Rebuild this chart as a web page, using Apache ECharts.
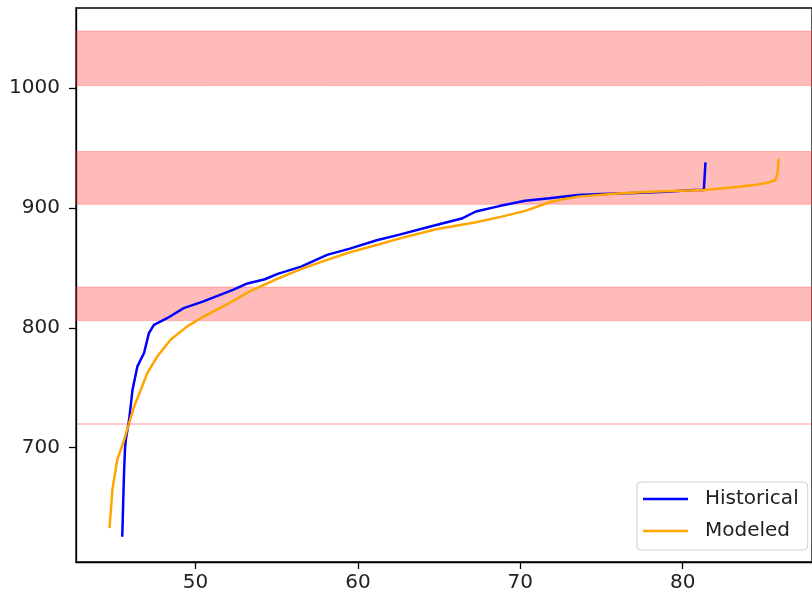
<!DOCTYPE html>
<html>
<head>
<meta charset="utf-8">
<script src="https://cdn.jsdelivr.net/npm/echarts@6/dist/echarts.min.js"></script>
<style>
  html, body { margin: 0; padding: 0; background: #fff; }
  #chart { width: 812px; height: 597px; }
</style>
</head>
<body>
<div id="chart"></div>
<script>
// data
var historicalX = [45.49, 45.55, 45.6, 45.66, 45.71, 45.91, 46.12, 46.42, 46.83, 47.13, 47.44, 48.25, 49.27, 50.49, 52.3, 53.2, 54.27, 55.06, 56.5, 58.1, 59.5, 61.16, 62.5, 64.82, 66.45, 67.26, 68.7, 70.3, 71.8, 73.55, 75, 77, 79, 80.67, 81.3, 81.4];
var historicalY = [625.8, 656.7, 680, 700, 707, 723.3, 748.3, 767.8, 779, 795.6, 802.5, 808, 816.4, 822, 831.7, 837, 840.5, 845, 851, 860.8, 866, 873, 877.5, 885.8, 891.4, 897, 901.5, 906, 908, 910.8, 911.5, 912.5, 913.5, 915, 915, 938];
var modeledX = [44.7, 44.8, 44.88, 45.18, 45.61, 45.91, 46.22, 46.63, 47.03, 47.64, 48.46, 49.47, 50.49, 51.7, 53.34, 55.06, 56.5, 58.1, 59.5, 61.16, 62.7, 64.82, 67.26, 68.8, 70.3, 71.93, 73.55, 76, 78, 81.3, 83, 84.4, 85.2, 85.7, 85.85, 85.9];
var modeledY = [633, 650, 665, 690, 706.7, 720.6, 734.4, 748.3, 762.2, 776, 790, 801, 809.4, 817.8, 830.3, 841, 849, 856.7, 863, 869, 875, 882.2, 888, 892.5, 897.5, 905.3, 909.4, 912, 913.5, 915, 917, 919, 921, 923, 930, 941];
var bands = [[1002, 1047.5], [903, 947], [806, 834]];
var thinLine = 720;
var xTicks = [50, 60, 70, 80];
var yTicks = [700, 800, 900, 1000];

function pairs(xs, ys) {
	var out = [];
	for (var i = 0; i < xs.length; i++) out.push([xs[i], ys[i]]);
	return out;
}

var myChart = echarts.init(document.getElementById('chart'));
var bandAreas = bands.map(function (b) {
	return [{ yAxis: b[0] }, { yAxis: b[1] }];
});

var axisCommon = {
	type: 'value',
	axisLine: { show: true, lineStyle: { color: '#000', width: 1.3 } },
	axisTick: { show: true, length: 7, inside: false, lineStyle: { color: '#000', width: 1.3 } },
	splitLine: { show: false },
	axisLabel: { color: '#222', fontFamily: 'DejaVu Sans', fontSize: 20, formatter: function (v) { return String(v); } }
};

var option = {
	animation: false,
	grid: {
		left: 76, top: 8, width: 744, height: 554,
		show: true, borderColor: '#000', borderWidth: 1.3, backgroundColor: '#fff'
	},
	xAxis: Object.assign({}, axisCommon, {
		min: 42.64, max: 87.96,
		axisTick: Object.assign({}, axisCommon.axisTick, { customValues: xTicks }),
		axisLabel: Object.assign({}, axisCommon.axisLabel, { customValues: xTicks, margin: 11 })
	}),
	yAxis: Object.assign({}, axisCommon, {
		min: 604.7, max: 1066.7,
		axisTick: Object.assign({}, axisCommon.axisTick, { customValues: yTicks }),
		axisLabel: Object.assign({}, axisCommon.axisLabel, { customValues: yTicks, margin: 16 })
	}),
	legend: {
		orient: 'vertical',
		left: 637, top: 482,
		padding: [6, 9, 8, 6],
		itemGap: 10,
		itemWidth: 45, itemHeight: 2.6,
		icon: 'rect',
		backgroundColor: '#fff',
		borderColor: '#d0d0d0', borderWidth: 1, borderRadius: 4,
		textStyle: { color: '#222', fontFamily: 'DejaVu Sans', fontSize: 20, lineHeight: 22, padding: [0, 0, 0, 12] },
		data: ['Historical', 'Modeled']
	},
	series: [
		{
			name: 'bands',
			type: 'line',
			data: [],
			silent: true,
			markArea: {
				silent: true,
				itemStyle: { color: 'rgba(255,0,0,0.27)', borderColor: 'rgba(255,80,80,0.35)', borderWidth: 1 },
				data: bandAreas
			},
			markLine: {
				silent: true,
				symbol: 'none',
				label: { show: false },
				lineStyle: { color: 'rgba(255,0,0,0.2)', width: 2, type: 'solid' },
				data: [{ yAxis: thinLine }]
			}
		},
		{
			name: 'Historical',
			type: 'line',
			showSymbol: false,
			color: '#0000ff',
			lineStyle: { color: '#0000ff', width: 2.5 },
			data: pairs(historicalX, historicalY),
			z: 3
		},
		{
			name: 'Modeled',
			type: 'line',
			showSymbol: false,
			color: '#ffa500',
			lineStyle: { color: '#ffa500', width: 2.5 },
			data: pairs(modeledX, modeledY),
			z: 4
		}
	]
};
myChart.setOption(option);
</script>
</body>
</html>
